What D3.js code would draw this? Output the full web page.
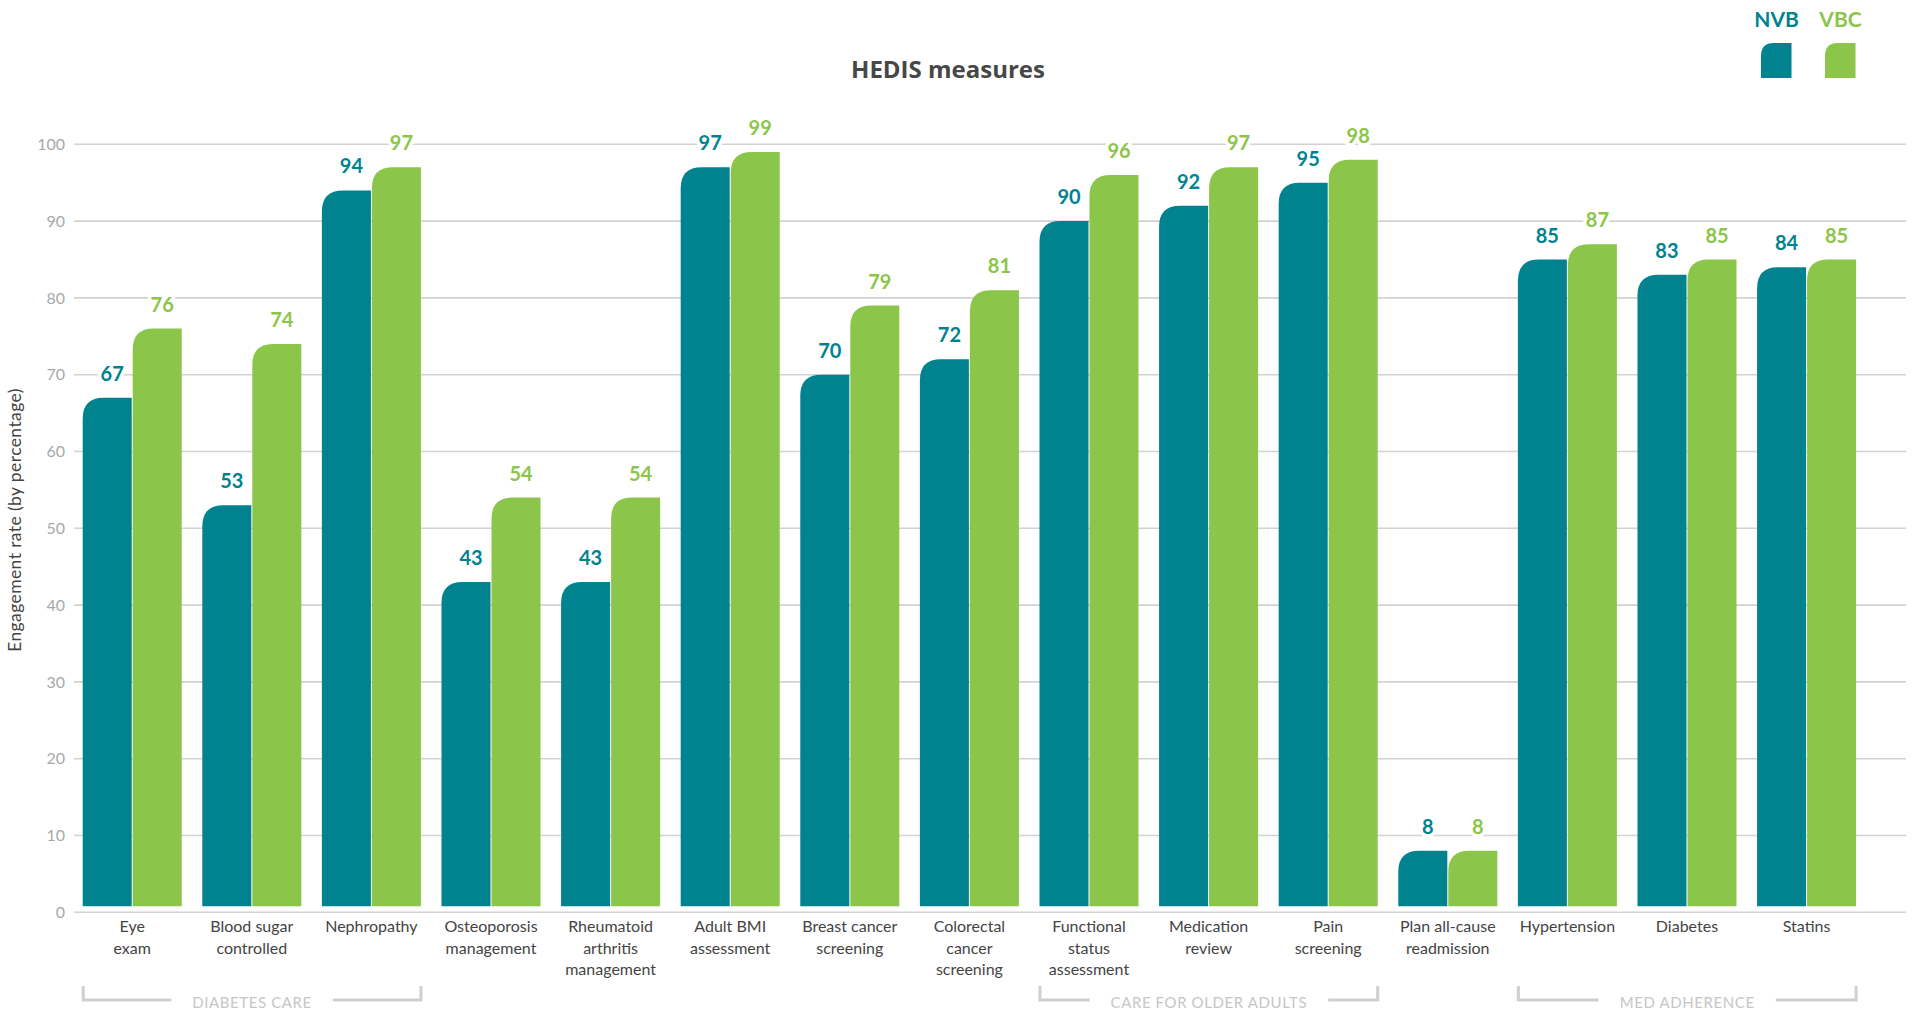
<!DOCTYPE html>
<html>
<head>
<meta charset="utf-8">
<script src="https://cdn.jsdelivr.net/npm/d3@7/dist/d3.min.js"></script>
<style>
  html, body { margin: 0; padding: 0; background: #fff; }
  svg { display: block; }
</style>
</head>
<body>
<svg id="chart" width="1914" height="1012"></svg>
<script>
// ---- Data ----
const categories = [
  ["Eye", "exam"],
  ["Blood sugar", "controlled"],
  ["Nephropathy"],
  ["Osteoporosis", "management"],
  ["Rheumatoid", "arthritis", "management"],
  ["Adult BMI", "assessment"],
  ["Breast cancer", "screening"],
  ["Colorectal", "cancer", "screening"],
  ["Functional", "status", "assessment"],
  ["Medication", "review"],
  ["Pain", "screening"],
  ["Plan all-cause", "readmission"],
  ["Hypertension"],
  ["Diabetes"],
  ["Statins"]
];
const nvbValues = [67, 53, 94, 43, 43, 97, 70, 72, 90, 92, 95, 8, 85, 83, 84];
const vbcValues = [76, 74, 97, 54, 54, 99, 79, 81, 96, 97, 98, 8, 87, 85, 85];
const seriesNames = ["NVB", "VBC"];
const yTicks = [0, 10, 20, 30, 40, 50, 60, 70, 80, 90, 100];
const groupBrackets = [
  { label: "DIABETES CARE", from: 0, to: 2 },
  { label: "CARE FOR OLDER ADULTS", from: 8, to: 10 },
  { label: "MED ADHERENCE", from: 12, to: 14 }
];
const chartTitle = "HEDIS measures";
const yTitle = "Engagement rate (by percentage)";

// ---- Styles ----
const colors = { NVB: "#00838f", VBC: "#8bc54a" };
const fontMain = "Lato, 'Open Sans', sans-serif";

const svg = d3.select("#chart");
const idx = d3.range(categories.length);

const x = d3.scaleBand().domain(idx).range([82.7, 1856.1]).paddingInner(0.172).paddingOuter(0);
const xs = d3.scaleBand().domain(seriesNames).range([0, x.bandwidth()]).paddingInner(0.02);
const y = d3.scaleLinear().domain([0, 100]).range([912.3, 144.3]);
const barBottom = y(0) - 6;
const gridLeft = 74, gridRight = 1906;

// Gridlines + tick labels
const grid = svg.append("g");
grid.selectAll("line").data(yTicks).join("line")
  .attr("x1", gridLeft).attr("x2", gridRight)
  .attr("y1", d => y(d)).attr("y2", d => y(d))
  .attr("stroke", "#d2d2d2").attr("stroke-width", 1.6);
grid.selectAll("text").data(yTicks).join("text")
  .attr("x", 65).attr("y", d => y(d)).attr("dy", "0.36em")
  .attr("text-anchor", "end")
  .attr("font-family", fontMain).attr("font-size", 16)
  .attr("fill", "#a8a8a8").text(d => d);

// Y title
svg.append("text")
  .attr("transform", `translate(21,520) rotate(-90)`)
  .attr("text-anchor", "middle")
  .attr("font-family", fontMain).attr("font-size", 17.5)
  .attr("letter-spacing", 0.4)
  .attr("fill", "#444").text(yTitle);

// Title
svg.append("text")
  .attr("x", 948).attr("y", 78)
  .attr("text-anchor", "middle")
  .attr("font-family", "'Open Sans', sans-serif").attr("font-weight", 700)
  .attr("font-size", 24).attr("fill", "#474747").text(chartTitle);

// bar path with rounded top-left corner
function barPath(x0, w, yTop, yBot, r) {
  const rr = Math.min(r, w, yBot - yTop);
  return `M${x0},${yBot} L${x0},${yTop + rr} Q${x0},${yTop} ${x0 + rr},${yTop} L${x0 + w},${yTop} L${x0 + w},${yBot} Z`;
}

const rows = idx.map(i => ({ i, NVB: nvbValues[i], VBC: vbcValues[i] }));
const groups = svg.append("g").selectAll("g").data(rows).join("g")
  .attr("transform", d => `translate(${x(d.i)},0)`);

groups.selectAll("path").data(d => seriesNames.map(s => ({ s, v: d[s] }))).join("path")
  .attr("d", d => barPath(xs(d.s), xs.bandwidth(), y(d.v), barBottom, 21))
  .attr("fill", d => colors[d.s]);

groups.selectAll("text.val").data(d => seriesNames.map(s => ({ s, v: d[s] }))).join("text")
  .attr("class", "val")
  .attr("x", d => xs(d.s) + xs.bandwidth() / 2 + 5)
  .attr("y", d => y(d.v) - 17)
  .attr("text-anchor", "middle")
  .attr("font-family", fontMain).attr("font-weight", 700).attr("font-size", 20)
  .attr("fill", d => colors[d.s])
  .attr("stroke", "#fff").attr("stroke-width", 7).attr("paint-order", "stroke")
  .attr("stroke-linejoin", "round")
  .text(d => d.v);

// Category labels
groups.append("text")
  .attr("text-anchor", "middle")
  .attr("font-family", fontMain).attr("font-size", 16)
  .attr("fill", "#444")
  .selectAll("tspan").data(d => categories[d.i]).join("tspan")
  .attr("x", x.bandwidth() / 2)
  .attr("y", (d, k) => 932 + k * 21.5)
  .text(d => d);

// Legend
const legendX = { NVB: 1761, VBC: 1825 };
seriesNames.forEach(s => {
  svg.append("path")
    .attr("d", barPath(legendX[s], 30.5, 43, 78, 13))
    .attr("fill", colors[s]);
  svg.append("text")
    .attr("x", legendX[s] + 15.5).attr("y", 26.5)
    .attr("text-anchor", "middle")
    .attr("font-family", fontMain).attr("font-weight", 700).attr("font-size", 21)
    .attr("fill", colors[s]).text(s);
});

// Group brackets
const br = svg.append("g");
groupBrackets.forEach(g => {
  const x0 = x(g.from) + 0.5;
  const x1 = x(g.to) + x.bandwidth();
  const cx = (x0 + x1) / 2;
  const t = br.append("text")
    .attr("x", cx).attr("y", 1008)
    .attr("text-anchor", "middle")
    .attr("font-family", fontMain).attr("font-size", 15)
    .attr("letter-spacing", 0.6)
    .attr("fill", "#c6c6c6").text(g.label);
  const tw = t.node().getComputedTextLength();
  const gap = 21;
  const lineY = 1000;
  br.append("path")
    .attr("d", `M${x0},986 L${x0},${lineY} L${cx - tw / 2 - gap},${lineY}`)
    .attr("fill", "none").attr("stroke", "#cfcfcf").attr("stroke-width", 3);
  br.append("path")
    .attr("d", `M${cx + tw / 2 + gap},${lineY} L${x1},${lineY} L${x1},986`)
    .attr("fill", "none").attr("stroke", "#cfcfcf").attr("stroke-width", 3);
});
</script>
</body>
</html>
